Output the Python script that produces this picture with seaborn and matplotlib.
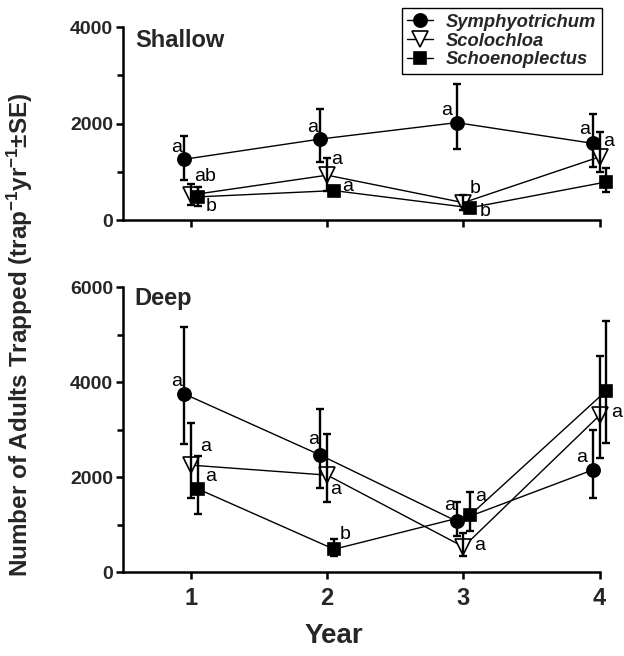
#!/usr/bin/env python3
"""Adults trapped per year in shallow and deep zones, three plant species"""

import numpy as np
import pandas as pd
import seaborn as sns
import matplotlib.pyplot as plt

###########################################################
# Data (means, lower / upper SE)
###########################################################

years = [1, 2, 3, 4]
species = ["Symphyotrichum", "Scolochloa", "Schoenoplectus"]

shallow_symph = [1260, 1680, 2020, 1590]
shallow_symph_lo = [430, 470, 545, 500]
shallow_symph_hi = [480, 615, 795, 610]
shallow_scolo = [520, 930, 360, 1310]
shallow_scolo_lo = [200, 330, 150, 310]
shallow_scolo_hi = [230, 360, 160, 520]
shallow_schoen = [480, 610, 255, 790]
shallow_schoen_lo = [195, 100, 60, 205]
shallow_schoen_hi = [195, 100, 60, 280]

deep_symph = [3750, 2460, 1070, 2150]
deep_symph_lo = [1050, 700, 315, 600]
deep_symph_hi = [1415, 970, 410, 840]
deep_scolo = [2250, 2040, 530, 3300]
deep_scolo_lo = [700, 560, 200, 890]
deep_scolo_hi = [890, 860, 285, 1245]
deep_schoen = [1750, 480, 1200, 3820]
deep_schoen_lo = [535, 150, 340, 1100]
deep_schoen_hi = [695, 210, 490, 1470]

shallow_letters = [["a", "a", "a", "a"], ["ab", "a", "b", "a"], ["b", "a", "b", "a"]]
deep_letters = [["a", "a", "a", "a"], ["a", "a", "a", "a"], ["a", "b", "a", "a"]]

###########################################################
# Styling
###########################################################

dodge = {"Symphyotrichum": -0.05, "Scolochloa": 0.0, "Schoenoplectus": 0.05}
markers = {"Symphyotrichum": "o", "Scolochloa": "v", "Schoenoplectus": "s"}
faces = {"Symphyotrichum": "black", "Scolochloa": "white", "Schoenoplectus": "black"}
msizes = {"Symphyotrichum": 9.5, "Scolochloa": 11, "Schoenoplectus": 8.5}

# letter offsets in pixels (dx, dy) from each marker
shallow_offsets = [
    [(-8, 12), (-8, 12), (-10, 12), (-8, 14)],
    [(14, 18), (9, 16), (12, 14), (9, 15)],
    [(13, -10), (14, 4), (15, -4), (10, 13)],
]
deep_offsets = [
    [(-8, 12), (-7, 16), (-7, 16), (-11, 12)],
    [(15, 19), (8, -14), (16, 1), (17, 3)],
    [(13, 12), (11, 15), (10, 19), (11, 16)],
]


def to_df(means, los, his, letters):
    rows = []
    for sp, m, lo, hi, let in zip(species, means, los, his, letters):
        for yr, v, l, h, t in zip(years, m, lo, hi, let):
            rows.append(dict(species=sp, year=yr, x=yr + dodge[sp],
                             count=v, lo=l, hi=h, letter=t))
    return pd.DataFrame(rows)


shallow = to_df([shallow_symph, shallow_scolo, shallow_schoen],
                [shallow_symph_lo, shallow_scolo_lo, shallow_schoen_lo],
                [shallow_symph_hi, shallow_scolo_hi, shallow_schoen_hi],
                shallow_letters)
deep = to_df([deep_symph, deep_scolo, deep_schoen],
             [deep_symph_lo, deep_scolo_lo, deep_schoen_lo],
             [deep_symph_hi, deep_scolo_hi, deep_schoen_hi],
             deep_letters)

sns.set_style("ticks")
plt.rcParams["font.family"] = ["Liberation Sans", "DejaVu Sans"]
plt.rcParams["mathtext.fontset"] = "custom"
plt.rcParams["mathtext.rm"] = "Liberation Sans:bold"
plt.rcParams["mathtext.bf"] = "Liberation Sans:bold"
plt.rcParams["mathtext.it"] = "Liberation Sans:bold"

fig = plt.figure(figsize=(6.24, 6.56), dpi=100)
ax_top = fig.add_axes([0.197, 0.6646, 0.764, 0.294])
ax_bot = fig.add_axes([0.197, 0.128, 0.764, 0.4345])


def draw_panel(ax, df, offsets, ymax, title, title_y):
    for i, sp in enumerate(species):
        sub = df[df["species"] == sp]
        sns.lineplot(data=sub, x="x", y="count", ax=ax, color="black",
                     marker=markers[sp], markersize=msizes[sp],
                     markerfacecolor=faces[sp], markeredgecolor="black",
                     markeredgewidth=1.2, linewidth=1.0, label=sp,
                     clip_on=False, zorder=2)
        ax.errorbar(sub["x"], sub["count"], yerr=[sub["lo"], sub["hi"]],
                    fmt="none", ecolor="black", elinewidth=1.7, capsize=2.6,
                    capthick=1.7, zorder=3, clip_on=False)
        for (_, r), (dx, dy) in zip(sub.iterrows(), offsets[i]):
            ax.annotate(r["letter"], (r["x"], r["count"]), xytext=(dx, dy),
                        textcoords="offset pixels", ha="center", va="center",
                        fontsize=14, color="black")
    if ax.get_legend() is not None:
        ax.get_legend().remove()
    ax.set_xlim(0.5, 4.0)
    ax.set_ylim(0, ymax)
    ax.set_xticks(years)
    ax.set_yticks(np.arange(0, ymax + 1, 2000))
    ax.set_yticks(np.arange(1000, ymax, 2000), minor=True)
    ax.set_xlabel("")
    ax.set_ylabel("")
    sns.despine(ax=ax)
    for s in ["left", "bottom"]:
        ax.spines[s].set_linewidth(1.8)
        ax.spines[s].set_color("black")
    ax.tick_params(axis="both", which="major", length=5, width=1.8,
                   color="black", direction="out")
    ax.tick_params(axis="y", which="minor", length=4, width=1.8, color="black")
    ax.tick_params(axis="y", labelsize=14, pad=2)
    ax.tick_params(axis="x", labelsize=17, pad=6)
    for lab in ax.get_yticklabels() + ax.get_xticklabels():
        lab.set_fontweight("bold")
    ax.text(0.025, title_y, title, transform=ax.transAxes,
            fontsize=17, fontweight="bold", ha="left", va="center")


draw_panel(ax_top, shallow, shallow_offsets, 4000, "Shallow", 0.93)
draw_panel(ax_bot, deep, deep_offsets, 6000, "Deep", 0.96)
ax_top.set_xticklabels([])

handles, labels = ax_top.get_legend_handles_labels()
leg = fig.legend(handles[:3], labels[:3], loc="upper right",
                 bbox_to_anchor=(611 / 624, 1 + 1 / 656), frameon=True,
                 fancybox=False, edgecolor="black", framealpha=1,
                 handlelength=1.4, handletextpad=0.7, borderpad=0.3,
                 labelspacing=0.1, prop=dict(size=13.2, weight="bold", style="italic"))
leg.get_frame().set_linewidth(1.0)

fig.text(0.032, 0.49,
         r"Number of Adults Trapped (trap$^{-1}$yr$^{-1}$$\pm$SE)",
         rotation=90, ha="center", va="center", fontsize=17.5, fontweight="bold")
fig.text(0.535, 0.03, "Year", ha="center", va="center", fontsize=20,
         fontweight="bold")

fig.savefig("out.png", dpi=100)
